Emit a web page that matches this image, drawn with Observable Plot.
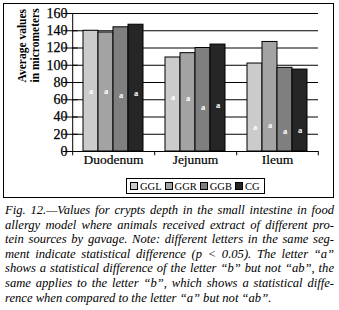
<!DOCTYPE html>
<html>
<head>
<meta charset="utf-8">
<script src="https://cdn.jsdelivr.net/npm/d3@7"></script>
<script src="https://cdn.jsdelivr.net/npm/@observablehq/plot@0.6"></script>
<style>
  html, body { margin: 0; padding: 0; background: #fff; }
  #wrap { position: relative; width: 339px; height: 310px; font-family: "Liberation Serif", serif; }
  #frame { position: absolute; left: 3px; top: 3px; width: 329px; height: 193px; border: 1px solid #000; pointer-events: none; }
  #chart { position: absolute; left: 0; top: 0; }
  #legend { position: absolute; left: 126px; top: 178px; height: 14px; border: 1px solid #000; padding: 0 2px; display: flex; align-items: center; font-size: 10.5px; white-space: nowrap; background: #fff; }
  #legend span.sw { display: inline-block; width: 6px; height: 6px; border: 1px solid #000; margin: 0 2px 0 1px; }
  #legend span.it { margin-right: 2px; }
  #caption { position: absolute; left: 5px; top: 203px; width: 329px; font-style: italic; font-size: 12.6px; line-height: 14.6px; color: #000; }
  #caption div { white-space: nowrap; text-align: justify; text-align-last: justify; }
  #caption div.last { text-align-last: left; }
</style>
</head>
<body>
<div id="wrap">
  <div id="chart"></div>
  <div id="frame"></div>
  <div id="legend"></div>
  <div id="caption"></div>
</div>
<script>
const segments = ["Duodenum", "Jejunum", "Ileum"];
const series = ["GGL", "GGR", "GGB", "CG"];
const colors = ["#cbcbcb", "#a3a3a3", "#7f7f7f", "#262626"];
const values = [
  [140, 138, 144, 147],
  [109, 114, 120, 124],
  [102, 127, 97, 95]
];
const letters = [
  ["a", "a", "a", "a"],
  ["a", "a", "a", "a"],
  ["a", "a", "a", "a"]
];
const letterPos = [
  [70, 70, 65, 68],
  [63, 62, 51, 54],
  [28, 30, 24, 25]
];
const yTicks = [0, 20, 40, 60, 80, 100, 120, 140, 160];
const captionLines = [
  "Fig. 12.—Values for crypts depth in the small intestine in food",
  "allergy model where animals received extract of different pro-",
  "tein sources by gavage. Note: different letters in the same seg-",
  "ment indicate statistical difference (p < 0.05). The letter “a”",
  "shows a statistical difference of the letter “b” but not “ab”, the",
  "same applies to the letter “b”, which shows a statistical diffe-",
  "rence when compared to the letter “a” but not “ab”."
];

const data = [];
segments.forEach((s, i) => series.forEach((g, j) => data.push({segment: s, series: g, value: values[i][j], letter: letters[i][j], lpos: letterPos[i][j]})));

const serif = "Liberation Serif";
const sepOffset = 18.3;

const chart = Plot.plot({
  width: 339,
  height: 200,
  marginLeft: 71,
  marginRight: 21,
  marginTop: 13,
  marginBottom: 49,
  style: {fontFamily: serif, fontSize: "13px", color: "#000", background: "transparent", overflow: "visible"},
  fx: {domain: segments, padding: 0, label: null, axis: null},
  x: {domain: series, paddingInner: 0, paddingOuter: 0.7, axis: null},
  y: {domain: [0, 160], ticks: yTicks, label: null, axis: null},
  color: {domain: series, range: colors},
  marks: [
    Plot.gridY(yTicks, {stroke: "#000", strokeOpacity: 1, strokeWidth: 1}),
    Plot.barY(data, {fx: "segment", x: "series", y: "value", fill: "series", stroke: "#000", strokeWidth: 1, inset: 0}),
    Plot.text(data, {fx: "segment", x: "series", y: "lpos", text: "letter", fill: "#fff", fontSize: 8.5, fontWeight: "bold", fontFamily: serif}),
    Plot.ruleY([0], {stroke: "#000"}),
    Plot.ruleX(["Duodenum"], {fx: d => d, x: () => "GGL", dx: -sepOffset, y1: 0, y2: 160, stroke: "#000"}),
    Plot.ruleX(segments, {fx: d => d, x: () => "GGL", dx: -sepOffset, y1: 0, y2: -5, stroke: "#000"}),
    Plot.ruleX(["Ileum"], {fx: d => d, x: () => "CG", dx: sepOffset, y1: 0, y2: -5, stroke: "#000"}),
    Plot.tickY(yTicks, {y: d => d, fx: () => "Duodenum", x: () => "GGL", dx: -sepOffset - 2, stroke: "#000", inset: 0}),
    Plot.text(yTicks, {y: d => d, frameAnchor: "left", facetAnchor: "left", textAnchor: "end", dx: -5, fontSize: 14, fill: "#000", stroke: "#000", strokeWidth: 0.25, fontFamily: serif}),
    Plot.text(segments, {fx: d => d, frameAnchor: "bottom", dy: 12, fontSize: 13.5, fill: "#000", stroke: "#000", strokeWidth: 0.2, fontFamily: serif}),
    Plot.text(["Average values\nin micrometers"], {frameAnchor: "left", facetAnchor: "left", rotate: -90, dx: -44, fontSize: 11.5, fontWeight: "bold", lineHeight: 1.15, fill: "#000", fontFamily: serif})
  ]
});
document.getElementById("chart").appendChild(chart);

const legend = document.getElementById("legend");
series.forEach((g, j) => {
  const sw = document.createElement("span");
  sw.className = "sw";
  sw.style.background = colors[j];
  legend.appendChild(sw);
  const t = document.createElement("span");
  t.className = "it";
  t.textContent = g;
  legend.appendChild(t);
});

const cap = document.getElementById("caption");
captionLines.forEach((line, i) => {
  const d = document.createElement("div");
  d.textContent = line;
  if (i === captionLines.length - 1) d.className = "last";
  cap.appendChild(d);
  let ls = 0;
  while (d.scrollWidth > 329 && ls > -1) {
    ls -= 0.05;
    d.style.letterSpacing = ls + "px";
  }
});
</script>
</body>
</html>
